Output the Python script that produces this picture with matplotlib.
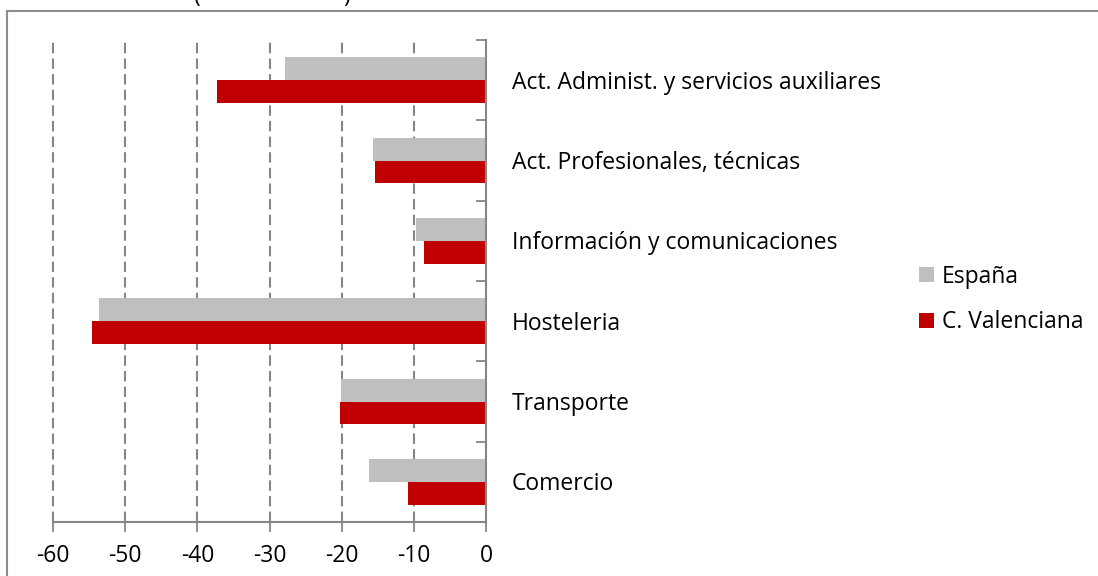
import matplotlib
matplotlib.use("Agg")
import matplotlib.pyplot as plt
from matplotlib.lines import Line2D
import numpy as np

categories = ["Comercio", "Transporte", "Hosteleria", "Información y comunicaciones",
              "Act. Profesionales, técnicas", "Act. Administ. y servicios auxiliares"]
espana = [-16.2, -20.1, -53.6, -9.7, -15.6, -27.8]
cvalenciana = [-10.8, -20.2, -54.6, -8.6, -15.4, -37.3]
xticks = [-60, -50, -40, -30, -20, -10, 0]

plt.rcParams['font.family'] = ['Open Sans', 'DejaVu Sans']
FS = 16.5

W, H = 1098, 576
fig = plt.figure(figsize=(W / 100, H / 100), dpi=100)
ax = fig.add_axes([53 / W, 1 - 522 / H, (486 - 53) / W, (522 - 40) / H])

y = np.arange(len(categories))
h = 0.286
ax.barh(y + h / 2, espana, height=h, color="#BFBFBF", label="España", zorder=3)
ax.barh(y - h / 2, cvalenciana, height=h, color="#C00000", label="C. Valenciana", zorder=3)

ax.set_xlim(-60, 0)
ax.set_ylim(-0.5, len(categories) - 0.5)
ax.set_xticks(xticks)
ax.set_xticklabels([str(v) for v in xticks], fontsize=FS)
ax.tick_params(axis='x', length=7, width=1.3, color="#868686", pad=9)

ax.yaxis.tick_right()
ax.set_yticks(np.arange(-0.5, len(categories), 1.0))
ax.set_yticklabels([])
ax.tick_params(axis='y', which='major', direction='in', length=7, width=1.3, color="#868686")
for yi, cat in zip(y, categories):
    ax.text(1.06, yi - 0.03, cat, transform=ax.get_yaxis_transform(), ha='left', va='center', fontsize=FS)

for v in xticks[:-1]:
    ax.axvline(v, color="#868686", lw=1.5, ls=(0, (5, 2.5)), zorder=1, clip_on=False)

for s in ['top', 'left']:
    ax.spines[s].set_visible(False)
for s in ['right', 'bottom']:
    ax.spines[s].set_color("#868686")
    ax.spines[s].set_linewidth(1.5)
    ax.spines[s].set_zorder(4)

leg = fig.legend(loc='upper left', bbox_to_anchor=(898 / W, 1 - 244 / H), frameon=False,
                 fontsize=FS, handlelength=0.65, handleheight=0.65, handletextpad=0.35,
                 labelspacing=0.95)

# outer chart frame
fig.add_artist(Line2D([7 / W, 7 / W], [0, 1 - 11 / H], transform=fig.transFigure,
                      color="#8c8c8c", lw=1.5))
fig.add_artist(Line2D([7 / W, 1], [1 - 11 / H, 1 - 11 / H], transform=fig.transFigure,
                      color="#8c8c8c", lw=1.5))
# partially visible title parentheses
fig.text(197 / W, 1 + 4 / H, "(", ha='center', va='center', fontsize=FS)
fig.text(347 / W, 1 + 4 / H, ")", ha='center', va='center', fontsize=FS)

fig.savefig("out.png", dpi=100)
